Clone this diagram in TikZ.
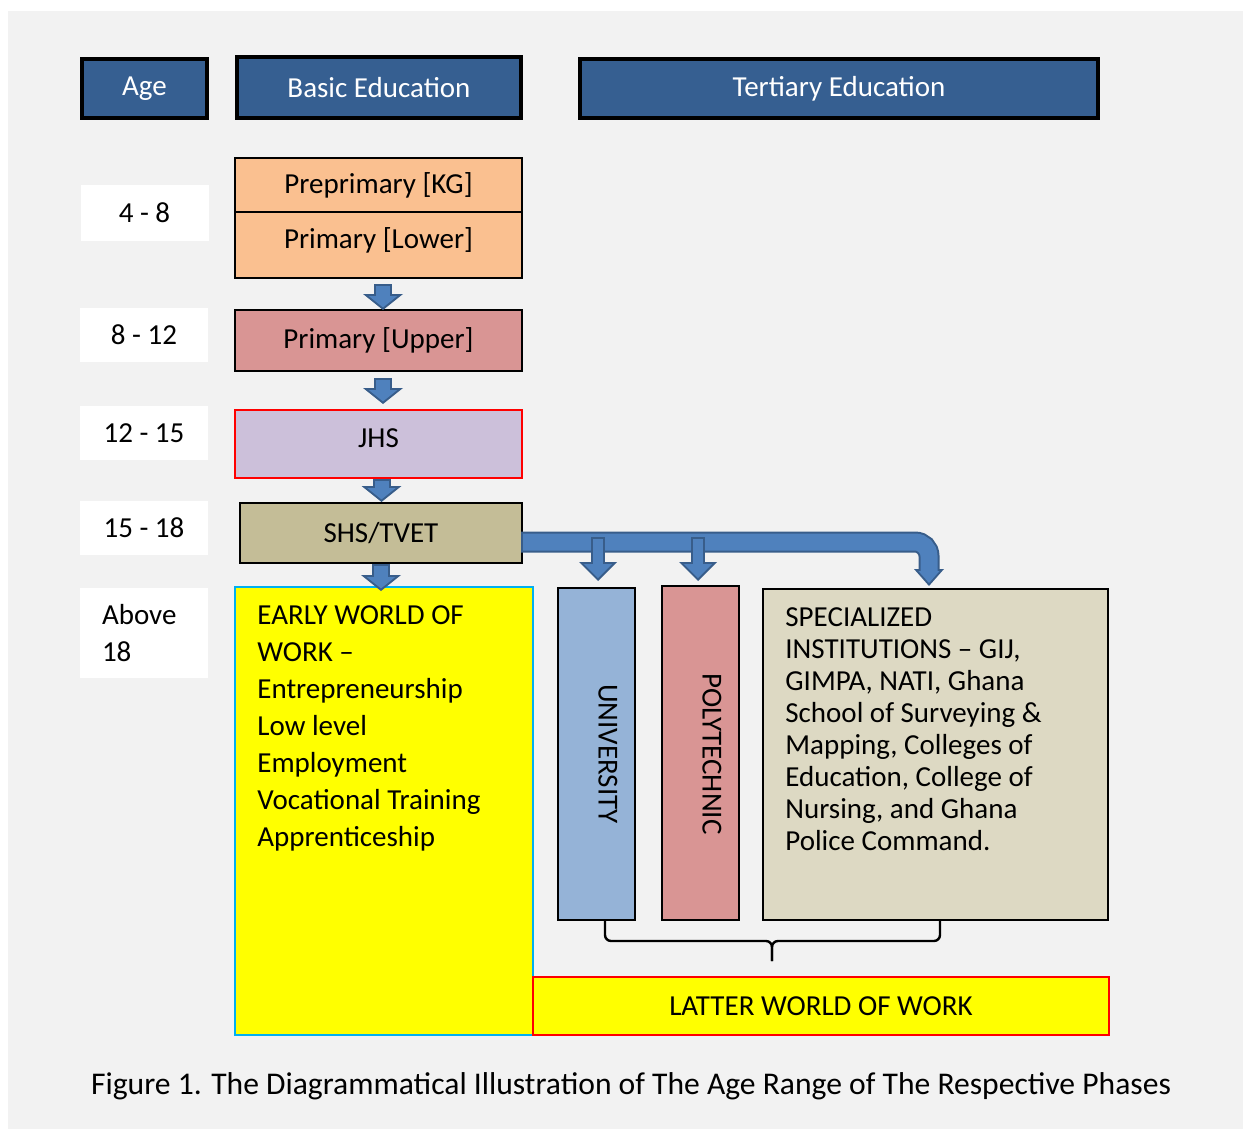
\documentclass[tikz,border=0pt]{standalone}
\usepackage{fontspec}
\setmainfont{Carlito}
\usepackage{tikz}
\usetikzlibrary{calc}
\usetikzlibrary{arrows.meta}
\usetikzlibrary{positioning}
\usepackage{xcolor}
\definecolor{clback}{HTML}{F2F2F2}
\definecolor{clhead}{HTML}{365F91}
\definecolor{clpre}{HTML}{FAC090}
\definecolor{clupper}{HTML}{D99594}
\definecolor{cljhs}{HTML}{CCC0DA}
\definecolor{clshs}{HTML}{C4BD97}
\definecolor{cluni}{HTML}{95B3D7}
\definecolor{clspec}{HTML}{DDD9C3}
\definecolor{clyellow}{HTML}{FFFF00}
\definecolor{clred}{HTML}{FF0000}
\definecolor{clcyan}{HTML}{00B0F0}
\definecolor{clarrow}{HTML}{4F81BD}
\definecolor{clarrowedge}{HTML}{385D8A}
\tikzstyle{header} = [draw=black, line width=2pt, fill=clhead, text=white, font=\fontsize{14.5}{17}\selectfont]
\tikzstyle{agebox} = [fill=white, minimum width=64pt, minimum height=27pt, font=\fontsize{14.5}{18.5}\selectfont]
\tikzstyle{stage} = [draw=black, line width=1pt, minimum width=143.5pt, font=\fontsize{14.5}{17}\selectfont]
\tikzstyle{listtext} = [inner sep=0pt, align=left, anchor=north west]
\tikzstyle{flow} = [draw=clarrow, line width=7pt, shorten <=1pt, shorten >=1.3pt, -{Triangle[length=5.7pt 0,width=14.3pt 0,line width=0pt]}, preaction={draw=clarrowedge, line width=9pt, shorten <=0pt, shorten >=0pt, -{Triangle[length=8pt 0,width=20pt 0,line width=0pt]}}]
\tikzstyle{branch} = [draw=clarrow, line width=5pt, shorten <=1pt, shorten >=1.4pt, -{Triangle[length=7.1pt 0,width=14.2pt 0,line width=0pt]}, preaction={draw=clarrowedge, line width=7pt, shorten <=0pt, shorten >=0pt, -{Triangle[length=9.5pt 0,width=19pt 0,line width=0pt]}}]
\tikzstyle{bendflow} = [draw=clarrow, line width=8.5pt, rounded corners=7pt, shorten <=1pt, shorten >=1.5pt, -{Triangle[length=6pt 0,width=10.6pt 0,line width=0pt]}, preaction={draw=clarrowedge, line width=10.5pt, shorten <=0pt, shorten >=0pt, -{Triangle[length=8.5pt 0,width=15pt 0,line width=0pt]}}]
\tikzstyle{bracket} = [draw=black, line width=1.2pt, rounded corners=3pt]

\begin{document}
\begin{tikzpicture}[x=0.5pt, y=-0.5pt]
    \useasboundingbox (0,0) rectangle (1243,1129);
    \fill [clback] (8,11) rectangle (1243,1129);

    % headings
    \node [header, minimum width=62.5pt, minimum height=29.5pt] (agehd) at (144.5,88.5) {Age};
    \node [header, minimum width=142pt, minimum height=30.5pt] (basichd) at (379,87.5) {Basic Education};
    \node [header, minimum width=259pt, minimum height=29.5pt] (terthd) at (839,88.5) {Tertiary Education};

    % age ranges
    \node [agebox, minimum height=28pt] (age1) at (144.5,213) {4 - 8};
    \node [agebox] (age2) at (144,335) {8 - 12};
    \node [agebox] (age3) at (144,433) {12 - 15};
    \node [agebox] (age4) at (144,528) {15 - 18};
    \node [agebox, minimum height=45pt, text width=42pt, inner xsep=11pt, align=left] (age5) at (144,633) {Above\\18};

    % basic education
    \node [stage, fill=clpre, minimum height=27pt] (pre) at (378.5,185) {Preprimary [KG]};
    \node [stage, fill=clpre, minimum height=33pt, text depth=7pt, below=-1pt of pre] (lower) {Primary [Lower]};
    \node [stage, fill=clupper, minimum height=30.5pt] (upper) at (378.5,340.5) {Primary [Upper]};
    \node [stage, draw=clred, fill=cljhs, minimum height=34pt, text depth=6pt] (jhs) at (378.5,444) {JHS};
    \node [stage, fill=clshs, minimum width=141pt, minimum height=30pt] (shs) at (381,533) {SHS/TVET};

    % after SHS
    \node [stage, draw=clcyan, fill=clyellow, minimum width=149pt, minimum height=224pt] (early) at (384,811) {};
    \node [listtext, font=\fontsize{14.5}{18.5}\selectfont] (earlytxt) at (257,605) {EARLY WORLD OF\\WORK –\\Entrepreneurship\\Low level\\Employment\\Vocational Training\\Apprenticeship};

    \node [stage, fill=cluni, minimum width=38.5pt, minimum height=166pt] (uni) at (596.5,754) {};
    \node [rotate=-90, font=\fontsize{14.5}{17}\selectfont] (unitxt) at (608,754) {UNIVERSITY};
    \node [stage, fill=clupper, minimum width=38.5pt, minimum height=167pt] (poly) at (700.5,753) {};
    \node [rotate=-90, font=\fontsize{14.5}{17}\selectfont] (polytxt) at (712,754) {POLYTECHNIC};
    \node [stage, fill=clspec, minimum width=172.5pt, minimum height=165.5pt] (spec) at (935.5,754.5) {};
    \node [listtext, font=\fontsize{14.5}{16}\selectfont] (spectxt) at (785,607) {SPECIALIZED\\INSTITUTIONS – GIJ,\\GIMPA, NATI, Ghana\\School of Surveying \&\\Mapping, Colleges of\\Education, College of\\Nursing, and Ghana\\Police Command.};

    \node [stage, draw=clred, fill=clyellow, minimum width=288pt, minimum height=29pt] (latter) at (821,1006) {LATTER WORLD OF WORK};

    % arrows
    \draw [flow] ($(lower.south)+(4.5,5)$) -- ($(upper.north)+(4.5,1)$);
    \draw [flow] ($(upper.south)+(4.5,6)$) -- ($(jhs.north)+(4.5,-5)$);
    \draw [flow] ($(jhs.south)+(3,0)$) -- ($(shs.north)+(0.5,0)$);
    \draw [flow] (shs.south) -- ($(shs.south |- early.north)+(0,5)$);

    \coordinate (barstart) at ($(shs.east)+(-2,9)$);
    \draw [bendflow] (barstart) -| ($(spec.north)+(-6.5,-2)$);
    \draw [branch] ($(uni.north |- barstart)+(1.5,-5)$) -- ($(uni.north)+(1.5,-6)$);
    \draw [branch] ($(poly.north |- barstart)+(-2.5,-5)$) -- ($(poly.north)+(-2.5,-4)$);

    % brace under the tertiary boxes
    \coordinate (bracetip) at (772,961);
    \draw [bracket] ($(uni.south)+(8.5,0)$) |- ($(bracetip)+(0,-20)$) -- (bracetip);
    \draw [bracket] ($(spec.south)+(4.5,0)$) |- ($(bracetip)+(0,-20)$) -- (bracetip);

    \node [font=\fontsize{15.8}{19}\selectfont] (caption) at (631,1086) {Figure 1. The Diagrammatical Illustration of The Age Range of The Respective Phases};
\end{tikzpicture}
\end{document}
